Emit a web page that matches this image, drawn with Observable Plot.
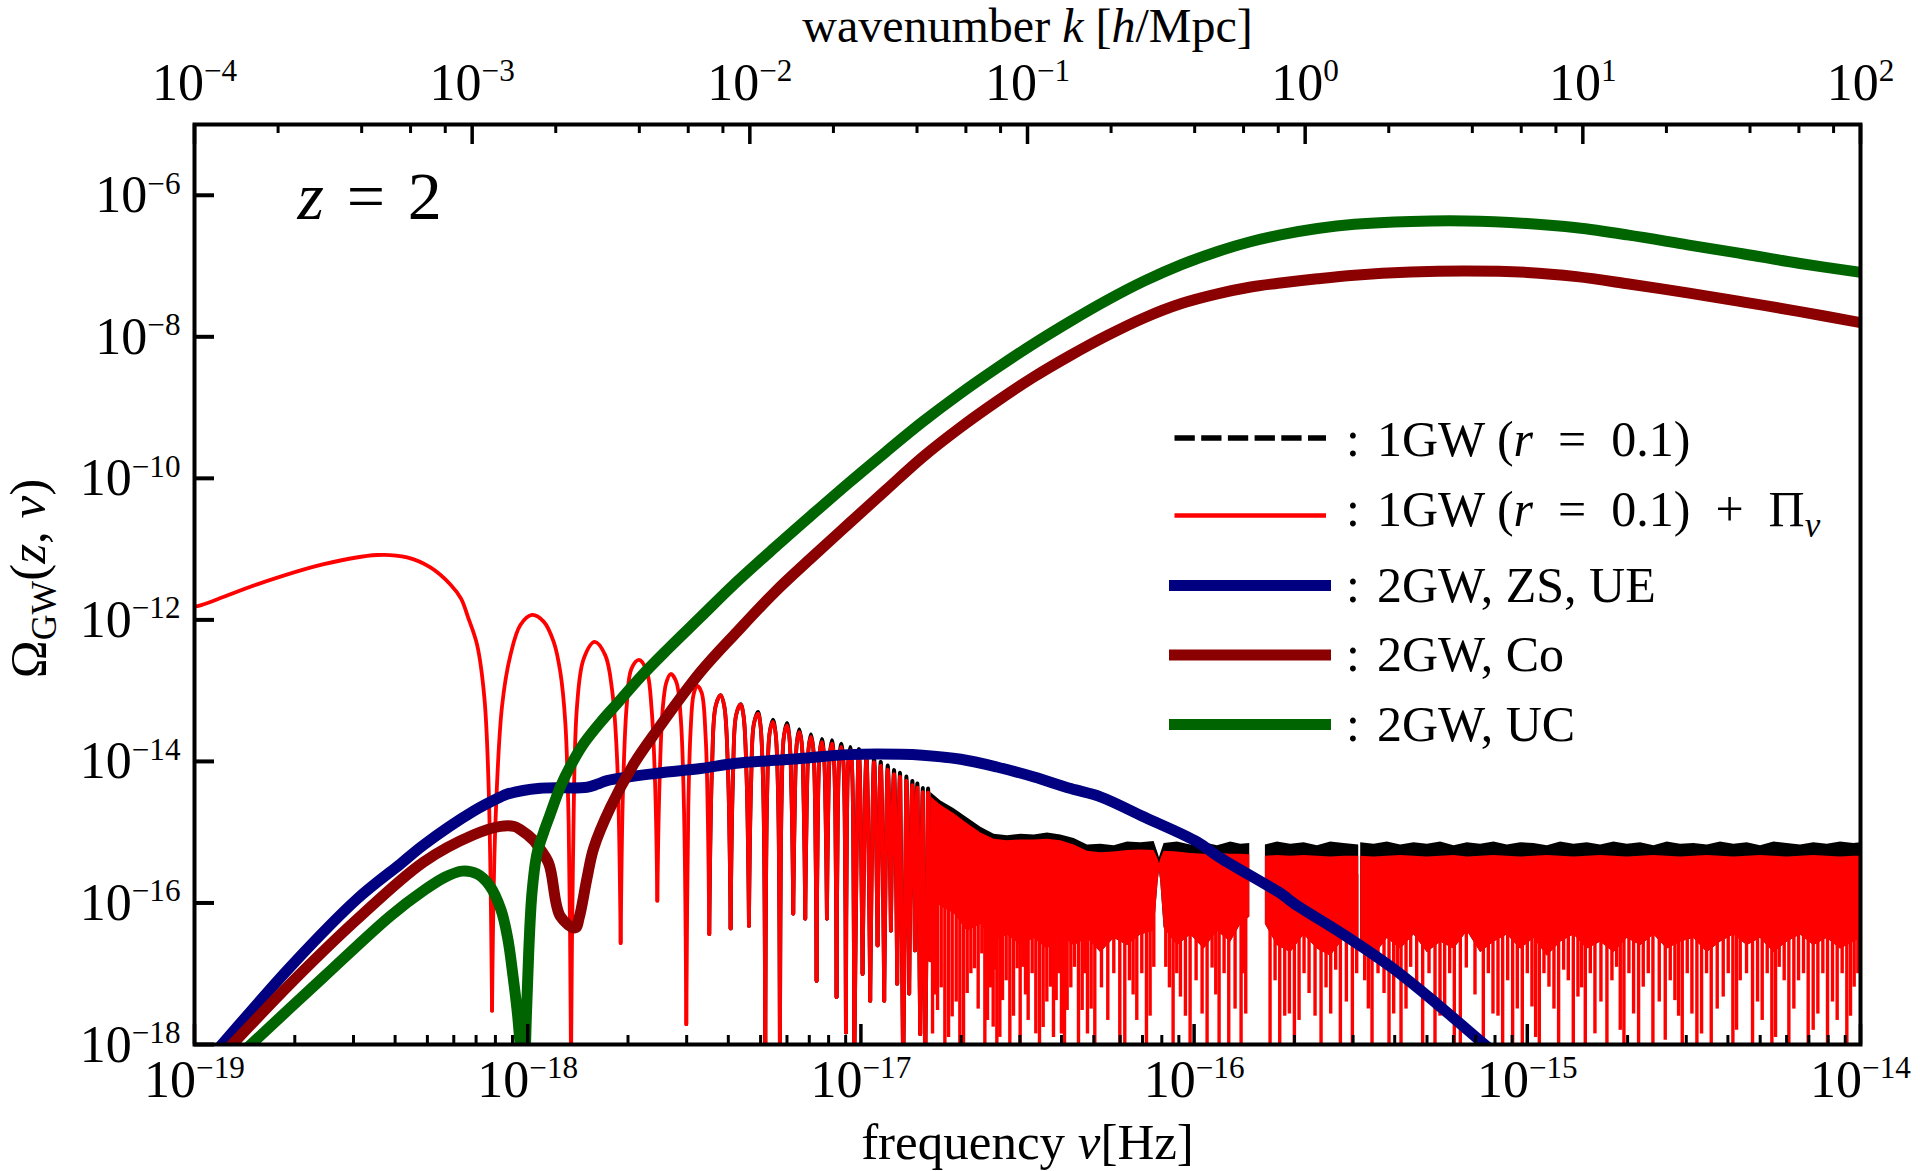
<!DOCTYPE html>
<html>
<head>
<meta charset="utf-8">
<script src="https://cdn.jsdelivr.net/npm/d3@7"></script>
<script src="https://cdn.jsdelivr.net/npm/@observablehq/plot@0.6"></script>
<style>
html, body { margin: 0; padding: 0; background: #fff; }
#chart svg { display: block; }
#chart text { white-space: pre; }
</style>
</head>
<body>
<div id="chart"></div>
<script>
// ---------------- axis tick definitions ----------------
const xTickExponents = [-19, -18, -17, -16, -15, -14];
const xMinorMultipliers = [2, 3, 4, 5, 6, 7, 8, 9];
const yTickExponents = [-6, -8, -10, -12, -14, -16, -18];
const kTickExponents = [-4, -3, -2, -1, 0, 1, 2];
const kMinorMultipliers = [2, 4, 6, 8];
const kDecadesPerNuDecade = 6 / 5; // k: 1e-4..1e2 h/Mpc spans nu: 1e-19..1e-14 Hz

// ---------------- series (log10 nu [Hz], log10 Omega) ----------------
const blueLog = [
  [-19.0, -18.44], [-18.927, -18.05], [-18.712, -16.90], [-18.512, -15.944], [-18.381, -15.445],
  [-18.312, -15.179], [-18.162, -14.701], [-18.082, -14.503], [-18.062, -14.462], [-17.962, -14.38],
  [-17.822, -14.365], [-17.79, -14.32], [-17.762, -14.271], [-17.611, -14.166], [-17.481, -14.10],
  [-17.381, -14.03], [-17.259, -13.984], [-17.181, -13.96], [-17.037, -13.904], [-16.881, -13.90],
  [-16.815, -13.913], [-16.70, -13.97], [-16.592, -14.079], [-16.48, -14.22], [-16.370, -14.384],
  [-16.281, -14.50], [-16.148, -14.79], [-15.990, -15.139], [-15.925, -15.351], [-15.739, -15.869],
  [-15.699, -16.01], [-15.55, -16.45], [-15.408, -16.907], [-15.27, -17.43], [-15.131, -17.99], [-15.0, -18.5]
];
const darkRedLog = [
  [-19.0, -18.56], [-18.897, -18.05], [-18.712, -17.14], [-18.512, -16.231], [-18.312, -15.42],
  [-18.162, -15.036], [-18.082, -14.917], [-18.04, -14.92], [-18.022, -14.964], [-17.982, -15.115],
  [-17.972, -15.179], [-17.937, -15.44], [-17.902, -16.19], [-17.857, -16.351], [-17.845, -16.2],
  [-17.822, -15.65], [-17.802, -15.227], [-17.752, -14.654], [-17.681, -14.032], [-17.611, -13.554],
  [-17.481, -12.734], [-17.37, -12.16], [-17.259, -11.61], [-17.148, -11.12], [-17.037, -10.643],
  [-16.926, -10.17], [-16.815, -9.701], [-16.704, -9.29], [-16.593, -8.916], [-16.482, -8.57],
  [-16.371, -8.262], [-16.26, -7.98], [-16.149, -7.73], [-16.038, -7.53], [-15.927, -7.39],
  [-15.834, -7.30], [-15.741, -7.24], [-15.63, -7.18], [-15.519, -7.13], [-15.35, -7.085],
  [-15.185, -7.07], [-15.0, -7.09], [-14.852, -7.15], [-14.7, -7.25], [-14.519, -7.38],
  [-14.35, -7.51], [-14.186, -7.64], [-14.0, -7.80]
];
const greenLog = [
  [-19.0, -18.74], [-18.842, -18.05], [-18.612, -17.044], [-18.412, -16.183], [-18.312, -15.825],
  [-18.25, -15.64], [-18.197, -15.55], [-18.152, -15.59], [-18.115, -15.75], [-18.08, -16.10],
  [-18.06, -16.5], [-18.045, -17.0], [-18.03, -17.6], [-18.018, -18.3], [-18.012, -18.6],
  [-18.004, -17.6], [-17.997, -16.7], [-17.987, -15.85], [-17.972, -15.3], [-17.952, -15.0],
  [-17.935, -14.78], [-17.902, -14.36], [-17.87, -14.05], [-17.832, -13.75], [-17.78, -13.44],
  [-17.731, -13.18], [-17.66, -12.80], [-17.581, -12.42], [-17.481, -11.96], [-17.381, -11.50],
  [-17.259, -10.98], [-17.148, -10.52], [-17.037, -10.067], [-16.926, -9.63], [-16.815, -9.203],
  [-16.704, -8.81], [-16.593, -8.445], [-16.482, -8.10], [-16.371, -7.78], [-16.26, -7.48],
  [-16.149, -7.21], [-16.038, -6.98], [-15.927, -6.79], [-15.834, -6.66], [-15.741, -6.56],
  [-15.63, -6.47], [-15.519, -6.41], [-15.35, -6.37], [-15.185, -6.363], [-15.0, -6.40],
  [-14.852, -6.46], [-14.7, -6.56], [-14.519, -6.70], [-14.35, -6.83], [-14.186, -6.96], [-14.0, -7.09]
];

// 1GW + Pi_nu : resolved arches (each arch from dip to dip)
const redArches = [
  [[-19.0, -11.81], [-18.982, -11.795], [-18.812, -11.498], [-18.612, -11.213], [-18.452, -11.083],
   [-18.362, -11.117], [-18.292, -11.259], [-18.232, -11.50], [-18.20, -11.70], [-18.18, -11.95],
   [-18.152, -12.35], [-18.13, -13.1], [-18.117, -14.4], [-18.107, -17.522]],
  [[-18.107, -17.522], [-18.097, -14.893], [-18.077, -13.219], [-18.052, -12.502], [-18.022, -12.072],
   [-17.987, -11.93], [-17.952, -12.024], [-17.922, -12.311], [-17.902, -12.741], [-17.887, -13.458],
   [-17.877, -14.893], [-17.870, -18.3]],
  [[-17.870, -18.3], [-17.864, -15.371], [-17.852, -13.219], [-17.832, -12.55], [-17.799, -12.311],
   [-17.767, -12.502], [-17.747, -12.98], [-17.732, -13.936], [-17.721, -16.566]],
  [[-17.721, -16.566], [-17.714, -14.415], [-17.703, -13.219], [-17.689, -12.693], [-17.666, -12.564],
   [-17.643, -12.717], [-17.628, -13.267], [-17.617, -14.415], [-17.611, -15.968]],
  [[-17.611, -15.968], [-17.605, -14.415], [-17.595, -13.267], [-17.584, -12.885], [-17.571, -12.765],
   [-17.554, -12.876], [-17.541, -13.363], [-17.531, -14.654], [-17.524, -17.713]],
  [[-17.524, -17.713], [-17.518, -14.654], [-17.511, -13.554], [-17.502, -13.052], [-17.491, -12.934],
   [-17.478, -13.028], [-17.466, -13.65], [-17.459, -14.893], [-17.455, -16.44]],
  [[-17.455, -16.44], [-17.4467, -14.065], [-17.4358, -13.215], [-17.421, -13.065], [-17.4102, -13.215], [-17.3993, -14.065], [-17.391, -16.36]],
  [[-17.391, -16.36], [-17.3838, -14.196], [-17.3745, -13.346], [-17.361, -13.196], [-17.3525, -13.346], [-17.3432, -14.196], [-17.336, -16.32]],
  [[-17.336, -16.32], [-17.3296, -14.324], [-17.3213, -13.474], [-17.309, -13.324], [-17.3017, -13.474], [-17.2934, -14.324], [-17.287, -18.5]],
  [[-17.287, -18.5], [-17.2813, -14.443], [-17.2738, -13.593], [-17.264, -13.443], [-17.2562, -13.593], [-17.2487, -14.443], [-17.243, -18.5]],
  [[-17.243, -18.5], [-17.2378, -14.49], [-17.231, -13.64], [-17.222, -13.49], [-17.215, -13.64], [-17.2082, -14.49], [-17.203, -16.15]],
  [[-17.203, -16.15], [-17.1983, -14.584], [-17.1922, -13.734], [-17.185, -13.584], [-17.1778, -13.734], [-17.1717, -14.584], [-17.167, -16.22]],
  [[-17.167, -16.22], [-17.1626, -14.655], [-17.1568, -13.805], [-17.150, -13.655], [-17.1432, -13.805], [-17.1374, -14.655], [-17.133, -17.10]],
  [[-17.133, -17.10], [-17.129, -14.725], [-17.1237, -13.875], [-17.117, -13.725], [-17.1113, -13.875], [-17.106, -14.725], [-17.102, -16.22]],
  [[-17.102, -16.22], [-17.0982, -14.748], [-17.0933, -13.898], [-17.087, -13.748], [-17.0817, -13.898], [-17.0768, -14.748], [-17.073, -17.33]],
  [[-17.073, -17.33], [-17.0694, -14.796], [-17.0646, -13.946], [-17.059, -13.796], [-17.0534, -13.946], [-17.0486, -14.796], [-17.045, -17.83]],
  [[-17.045, -17.83], [-17.0418, -14.843], [-17.0375, -13.993], [-17.032, -13.843], [-17.0275, -13.993], [-17.0233, -14.843], [-17.020, -18.5]]
];
const firstFineArch = 6;      // redArches[6..16] are the narrow arches p6..p16
const firstNarrowRedArch = 11; // fine arches drawn from dips/peaks start here (p17..)

// narrow arches: dips and peaks
const fineDips = [
  [-17.455, -16.44], [-17.391, -16.36], [-17.336, -16.32], [-17.287, -18.5], [-17.243, -18.5],
  [-17.203, -16.15], [-17.167, -16.22], [-17.133, -17.10], [-17.102, -16.22], [-17.073, -17.33],
  [-17.045, -17.83], [-17.020, -18.5], [-16.995, -17.0], [-16.972, -17.38], [-16.950, -16.6],
  [-16.930, -17.38], [-16.910, -16.39], [-16.891, -17.14], [-16.873, -18.5], [-16.855, -17.28],
  [-16.838, -16.67], [-16.822, -17.85], [-16.807, -18.5], [-16.792, -16.81]
];
const fineRedPeaks = [
  [-17.421, -13.065], [-17.361, -13.196], [-17.309, -13.324], [-17.264, -13.443], [-17.222, -13.49],
  [-17.185, -13.584], [-17.150, -13.655], [-17.117, -13.725], [-17.087, -13.748], [-17.059, -13.796],
  [-17.032, -13.843], [-17.007, -13.90], [-16.983, -13.96], [-16.961, -14.02], [-16.940, -14.07],
  [-16.920, -14.13], [-16.900, -14.19], [-16.882, -14.24], [-16.864, -14.29], [-16.846, -14.34],
  [-16.830, -14.39], [-16.814, -14.44], [-16.799, -14.48]
];
// 1GW (r=0.1) peaks, slightly above the red ones
const fineBlackPeaks = [
  [-17.421, -13.065], [-17.361, -13.19], [-17.309, -13.30], [-17.264, -13.41], [-17.222, -13.455],
  [-17.185, -13.545], [-17.150, -13.615], [-17.117, -13.68], [-17.087, -13.70], [-17.059, -13.75],
  [-17.032, -13.795], [-17.007, -13.85], [-16.983, -13.91], [-16.961, -13.965], [-16.940, -14.015],
  [-16.920, -14.07], [-16.900, -14.13], [-16.882, -14.18], [-16.864, -14.23], [-16.846, -14.28],
  [-16.830, -14.33], [-16.814, -14.38], [-16.799, -14.42]
];

// unresolved oscillation band: [log nu, solid floor, red top, black (1GW) top]
const denseBand = [
  [-16.790, -15.90, -14.50, -14.44], [-16.760, -16.05, -14.62, -14.56], [-16.720, -16.15, -14.74, -14.67],
  [-16.680, -16.40, -14.88, -14.80], [-16.640, -16.30, -15.01, -14.93], [-16.600, -16.55, -15.10, -15.03],
  [-16.560, -16.45, -15.12, -15.05], [-16.520, -16.60, -15.11, -15.03], [-16.480, -16.50, -15.11, -15.04],
  [-16.440, -16.65, -15.10, -15.01], [-16.400, -16.45, -15.12, -15.04], [-16.360, -16.60, -15.18, -15.09],
  [-16.320, -16.50, -15.27, -15.18], [-16.280, -16.70, -15.29, -15.17], [-16.240, -16.50, -15.28, -15.19],
  [-16.200, -16.60, -15.26, -15.14], [-16.160, -16.45, -15.25, -15.15], [-16.120, -16.40, -15.26, -15.13],
  [-16.108, -15.70, -15.38, -15.30], [-16.104, -15.55, -15.45, -15.36], [-16.100, -15.70, -15.38, -15.30],
  [-16.090, -16.35, -15.27, -15.16], [-16.050, -16.60, -15.28, -15.14], [-16.010, -16.45, -15.30, -15.18],
  [-15.970, -16.65, -15.31, -15.15], [-15.930, -16.40, -15.30, -15.19], [-15.890, -16.55, -15.31, -15.14],
  [-15.860, -16.30, -15.31, -15.17], [-15.833, -16.20, -15.32, -15.16], [-15.810, null, null, null],
  [-15.786, -16.30, -15.34, -15.18], [-15.750, -16.60, -15.33, -15.14], [-15.710, -16.70, -15.34, -15.17],
  [-15.670, -16.45, -15.33, -15.15], [-15.630, -16.65, -15.34, -15.19], [-15.590, -16.75, -15.35, -15.14],
  [-15.550, -16.50, -15.34, -15.16], [-15.506, -16.55, -15.34, -15.18], [-15.503, null, null, null],
  [-15.500, -16.55, -15.34, -15.15], [-15.460, -16.75, -15.35, -15.17], [-15.420, -16.50, -15.34, -15.14],
  [-15.380, -16.65, -15.33, -15.18], [-15.340, -16.45, -15.34, -15.15], [-15.300, -16.70, -15.35, -15.17],
  [-15.260, -16.55, -15.34, -15.14], [-15.220, -16.65, -15.33, -15.19], [-15.180, -16.40, -15.35, -15.15],
  [-15.140, -16.70, -15.34, -15.17], [-15.100, -16.55, -15.33, -15.14], [-15.060, -16.45, -15.34, -15.18],
  [-15.020, -16.65, -15.35, -15.15], [-14.980, -16.50, -15.34, -15.16], [-14.940, -16.75, -15.33, -15.19],
  [-14.900, -16.55, -15.34, -15.14], [-14.860, -16.45, -15.35, -15.17], [-14.820, -16.65, -15.34, -15.15],
  [-14.780, -16.55, -15.33, -15.18], [-14.740, -16.70, -15.34, -15.14], [-14.700, -16.50, -15.35, -15.17],
  [-14.660, -16.60, -15.34, -15.15], [-14.620, -16.45, -15.33, -15.19], [-14.580, -16.65, -15.34, -15.14],
  [-14.540, -16.55, -15.35, -15.17], [-14.500, -16.50, -15.34, -15.16], [-14.460, -16.70, -15.33, -15.18],
  [-14.420, -16.55, -15.34, -15.14], [-14.380, -16.45, -15.35, -15.17], [-14.340, -16.60, -15.34, -15.15],
  [-14.300, -16.50, -15.33, -15.19], [-14.260, -16.70, -15.34, -15.14], [-14.220, -16.55, -15.35, -15.16],
  [-14.180, -16.45, -15.34, -15.18], [-14.140, -16.60, -15.33, -15.15], [-14.100, -16.50, -15.34, -15.17],
  [-14.060, -16.65, -15.35, -15.14], [-14.020, -16.55, -15.34, -15.16], [-14.000, -16.50, -15.34, -15.15]
];

// deep downward red spikes: [log nu, spike top, spike bottom]
const redSpikes = [
  [-16.785, -15.6, -17.85], [-16.770, -15.6, -17.52], [-16.748, -15.6, -18.3], [-16.726, -15.6, -17.61],
  [-16.703, -15.6, -18.3], [-16.681, -15.6, -17.28], [-16.659, -15.6, -16.93], [-16.637, -15.6, -16.72],
  [-16.620, -15.6, -17.66], [-16.603, -15.6, -17.755], [-16.592, -15.6, -18.3], [-16.575, -15.6, -17.38],
  [-16.553, -15.6, -18.3], [-16.531, -15.6, -16.93], [-16.514, -15.6, -16.91], [-16.498, -15.6, -17.66],
  [-16.475, -15.6, -17.85], [-16.453, -15.6, -17.76], [-16.431, -15.6, -17.19], [-16.414, -15.6, -17.38],
  [-16.398, -15.6, -17.85], [-16.381, -15.6, -17.52], [-16.359, -15.6, -16.91], [-16.336, -15.6, -17.52],
  [-16.320, -15.6, -17.85], [-16.298, -15.6, -18.3], [-16.259, -15.6, -17.66], [-16.223, -15.6, -18.3],
  [-16.194, -15.6, -17.10], [-16.172, -15.6, -17.66], [-16.143, -15.6, -18.3], [-16.121, -15.6, -16.91],
  [-16.085, -15.6, -16.91], [-16.063, -15.6, -18.3], [-16.041, -15.6, -17.33], [-16.012, -15.6, -18.3],
  [-15.976, -15.6, -17.57], [-15.946, -15.6, -16.92], [-15.925, -15.6, -18.3], [-15.896, -15.6, -18.3],
  [-15.859, -15.6, -18.3], [-15.845, -15.6, -17.57], [-15.772, -15.6, -18.3], [-15.743, -15.6, -18.3],
  [-15.714, -15.6, -17.57], [-15.685, -15.6, -17.66], [-15.655, -15.6, -17.28], [-15.619, -15.6, -18.3],
  [-15.590, -15.6, -17.57], [-15.561, -15.6, -18.3], [-15.525, -15.6, -18.3], [-15.488, -15.6, -17.10],
  [-15.466, -15.6, -18.3], [-15.430, -15.6, -17.28], [-15.401, -15.6, -17.57], [-15.379, -15.6, -18.3],
  [-15.350, -15.6, -16.91], [-15.314, -15.6, -18.3], [-15.277, -15.6, -18.3], [-15.248, -15.6, -17.47],
  [-15.219, -15.6, -18.3], [-15.183, -15.6, -16.92], [-15.132, -15.6, -18.3], [-15.103, -15.6, -17.57],
  [-15.074, -15.6, -18.3], [-15.044, -15.6, -18.3], [-15.015, -15.6, -18.3], [-14.986, -15.6, -17.47],
  [-14.964, -15.6, -18.3], [-14.935, -15.6, -17.19], [-14.906, -15.6, -18.3], [-14.877, -15.6, -17.10],
  [-14.848, -15.6, -17.33], [-14.826, -15.6, -18.3], [-14.797, -15.6, -17.85], [-14.761, -15.6, -18.3],
  [-14.732, -15.6, -16.91], [-14.710, -15.6, -18.3], [-14.681, -15.6, -17.57], [-14.652, -15.6, -17.19],
  [-14.623, -15.6, -18.3], [-14.586, -15.6, -17.94], [-14.557, -15.6, -17.38], [-14.535, -15.6, -18.3],
  [-14.506, -15.6, -17.57], [-14.477, -15.6, -17.85], [-14.448, -15.6, -18.3], [-14.412, -15.6, -17.33],
  [-14.383, -15.6, -18.3], [-14.361, -15.6, -17.10], [-14.324, -15.6, -18.3], [-14.295, -15.6, -17.66],
  [-14.266, -15.6, -18.3], [-14.244, -15.6, -16.91], [-14.215, -15.6, -18.3], [-14.186, -15.6, -17.10],
  [-14.157, -15.6, -18.3], [-14.128, -15.6, -17.57], [-14.099, -15.6, -18.3], [-14.070, -15.6, -17.66],
  [-14.041, -15.6, -18.3], [-14.019, -15.6, -17.19]
];
// shorter spikes between the deep ones
const redSpikesShort = [
  [-16.778, -17.3], [-16.759, -17.2], [-16.737, -17.9], [-16.714, -17.4], [-16.692, -18.3], [-16.670, -17.0],
  [-16.648, -17.5], [-16.628, -18.3], [-16.611, -17.2], [-16.597, -16.95], [-16.583, -17.9], [-16.564, -17.1],
  [-16.542, -17.6], [-16.522, -18.3], [-16.506, -17.3], [-16.486, -17.0], [-16.464, -18.3], [-16.442, -17.4],
  [-16.422, -17.9], [-16.406, -17.0], [-16.389, -18.3], [-16.370, -17.2], [-16.347, -18.0], [-16.328, -17.0],
  [-16.309, -17.5], [-16.278, -17.2], [-16.241, -17.0], [-16.208, -18.3], [-16.183, -17.3], [-16.157, -17.0],
  [-16.132, -17.6], [-16.074, -17.2], [-16.052, -17.0], [-16.026, -17.6], [-15.994, -17.1], [-15.961, -18.3],
  [-15.935, -17.3], [-15.910, -17.0], [-15.877, -17.5], [-15.852, -17.0], [-15.757, -17.1], [-15.728, -17.6],
  [-15.699, -18.3], [-15.670, -17.0], [-15.637, -17.6], [-15.604, -17.2], [-15.575, -16.95], [-15.543, -17.4],
  [-15.512, -17.0], [-15.477, -17.5], [-15.448, -17.0], [-15.415, -18.3], [-15.390, -17.0], [-15.364, -17.5],
  [-15.332, -17.2], [-15.295, -17.0], [-15.262, -17.6], [-15.233, -17.0], [-15.201, -18.3], [-15.157, -17.3],
  [-15.117, -17.0], [-15.088, -17.6], [-15.059, -17.1], [-15.030, -17.5], [-15.000, -17.0], [-14.975, -17.9],
  [-14.950, -17.0], [-14.920, -17.5], [-14.891, -16.95], [-14.862, -18.3], [-14.837, -17.2], [-14.811, -17.0],
  [-14.779, -17.4], [-14.746, -17.1], [-14.721, -17.8], [-14.695, -17.0], [-14.666, -18.3], [-14.637, -17.0],
  [-14.604, -17.4], [-14.571, -17.1], [-14.546, -17.6], [-14.520, -17.0], [-14.491, -18.3], [-14.462, -17.0],
  [-14.430, -17.5], [-14.397, -17.0], [-14.372, -17.8], [-14.342, -17.0], [-14.309, -17.4], [-14.280, -17.0],
  [-14.255, -17.9], [-14.229, -17.1], [-14.200, -17.5], [-14.171, -17.0], [-14.142, -17.8], [-14.113, -17.0],
  [-14.084, -17.4], [-14.055, -17.0], [-14.030, -17.6], [-14.008, -17.0]
];
const shortSpikeTopLog = -15.6;

// legend entries
const legendLabels = ["1GW (*r*\u2002=\u20020.1)", "1GW (*r*\u2002=\u20020.1)\u2002+\u2002Π_{*ν*}", "2GW, ZS, UE", "2GW, Co", "2GW, UC"];
const seriesColors = ["#000000", "#ff0000", "#000080", "#8b0000", "#006400"];

// ---------------- build tables ----------------
const P = v => (v == null ? NaN : Math.pow(10, v));
const curveRows = arr => arr.map(([a, b]) => ({nu: P(a), om: P(b)}));
const redArchRows = [], blackArchRows = [], narrowRed = [];
redArches.forEach((arch, i) => arch.forEach(([a, b], j) => {
  redArchRows.push({arch: i, nu: P(a), om: P(b)});
  if (i >= firstFineArch) {
    const bp = fineBlackPeaks[i - firstFineArch];
    blackArchRows.push({arch: i, nu: P(a), om: P(j === 3 ? bp[1] : b)});
  }
}));
for (let i = firstNarrowRedArch; i < fineRedPeaks.length; i++) {
  const d0 = fineDips[i], d1 = fineDips[i + 1];
  for (const [a, b] of [d0, fineRedPeaks[i], d1]) narrowRed.push({arch: i, nu: P(a), om: P(b)});
  for (const [a, b] of [d0, fineBlackPeaks[i], d1]) blackArchRows.push({arch: 100 + i, nu: P(a), om: P(b)});
}
const blackCatmull = blackArchRows.filter(d => d.arch < 100);
const blackNatural = blackArchRows.filter(d => d.arch >= 100);
const allSpikes = redSpikes.concat(redSpikesShort.map(([a, b]) => [a, shortSpikeTopLog, b]));

const minus = e => (e < 0 ? "\u2212" + (-e) : String(e));
const pow10Label = e => `10^{${minus(e)}}`;
const kToNu = lk => Math.pow(10, -19 + (lk + 4) / kDecadesPerNuDecade);
const xMinor = [], kMinor = [];
for (let e = -19; e < -14; e++) for (const m of xMinorMultipliers) xMinor.push(m * Math.pow(10, e));
for (let e = -4; e < 2; e++) for (const m of kMinorMultipliers) kMinor.push(kToNu(e + Math.log10(m)));

const W = 1920, H = 1171, ML = 194, MR = 60, MT = 124, MB = 127;
const plotW = W - ML - MR, plotH = H - MT - MB;
const FONT = "'Liberation Serif', 'Times New Roman', serif";
const TICK_FONT = 52;

const chart = Plot.plot({
  width: W, height: H,
  marginLeft: ML, marginRight: MR, marginTop: MT, marginBottom: MB,
  x: {type: "log", domain: [1e-19, 1e-14], axis: null},
  y: {type: "log", domain: [1e-18, 1e-5], axis: null},
  style: {fontFamily: FONT, fontSize: "48px", background: "white", color: "black"},
  marks: [
    // 1GW (black): band and arch tips
    Plot.areaY(denseBand, {x: d => P(d[0]), y1: d => P(d[1]), y2: d => P(d[3]), fill: "#000", clip: true}),
    Plot.line(blackCatmull, {x: "nu", y: "om", z: "arch", curve: "catmull-rom", stroke: "#000", strokeWidth: 3.8, clip: true}),
    Plot.line(blackNatural, {x: "nu", y: "om", z: "arch", curve: "natural", stroke: "#000", strokeWidth: 3.8, clip: true}),
    // 1GW + Pi_nu (red)
    Plot.line(redArchRows, {x: "nu", y: "om", z: "arch", curve: "catmull-rom", stroke: "#ff0000", strokeWidth: 3.8, clip: true}),
    Plot.line(narrowRed, {x: "nu", y: "om", z: "arch", curve: "natural", stroke: "#ff0000", strokeWidth: 3.8, clip: true}),
    Plot.areaY(denseBand, {x: d => P(d[0]), y1: d => P(d[1]), y2: d => P(d[2]), fill: "#ff0000", clip: true}),
    Plot.ruleX(allSpikes, {x: d => P(d[0]), y1: d => P(d[1]), y2: d => P(d[2]), stroke: "#ff0000", strokeWidth: 3.4, clip: true}),
    // 2GW curves
    Plot.line(curveRows(blueLog), {x: "nu", y: "om", curve: "catmull-rom", stroke: seriesColors[2], strokeWidth: 11, clip: true}),
    Plot.line(curveRows(darkRedLog), {x: "nu", y: "om", curve: "catmull-rom", stroke: seriesColors[3], strokeWidth: 11, clip: true}),
    Plot.line(curveRows(greenLog), {x: "nu", y: "om", curve: "catmull-rom", stroke: seriesColors[4], strokeWidth: 11, clip: true}),
    // frame and ticks
    Plot.frame({stroke: "black", strokeWidth: 4}),
    Plot.tickX(xTickExponents.map(e => Math.pow(10, e)), {x: d => d, insetTop: plotH - 20, strokeWidth: 3.5}),
    Plot.tickX(xMinor, {x: d => d, insetTop: plotH - 9, strokeWidth: 3}),
    Plot.tickX(kTickExponents.map(kToNu), {x: d => d, insetBottom: plotH - 20, strokeWidth: 3.5}),
    Plot.tickX(kMinor, {x: d => d, insetBottom: plotH - 9, strokeWidth: 3}),
    Plot.tickY(yTickExponents.map(e => Math.pow(10, e)), {y: d => d, insetRight: plotW - 20, strokeWidth: 4}),
    // tick labels
    Plot.text(xTickExponents, {x: e => Math.pow(10, e), frameAnchor: "bottom", dy: 52, text: pow10Label, lineAnchor: "bottom", textAnchor: "middle", fontSize: TICK_FONT}),
    Plot.text(kTickExponents, {x: e => kToNu(e), frameAnchor: "top", dy: -25, text: pow10Label, lineAnchor: "bottom", textAnchor: "middle", fontSize: TICK_FONT}),
    Plot.text(yTickExponents, {y: e => Math.pow(10, e), frameAnchor: "left", dx: -14, dy: 17, text: pow10Label, lineAnchor: "bottom", textAnchor: "end", fontSize: TICK_FONT}),
    // titles
    Plot.text(["wavenumber *k* [*h*/Mpc]"], {frameAnchor: "top", dy: -83, text: d => d, lineAnchor: "bottom", textAnchor: "middle", fontSize: 48}),
    Plot.text(["frequency *ν*[Hz]"], {frameAnchor: "bottom", dy: 114, text: d => d, lineAnchor: "bottom", textAnchor: "middle", fontSize: 51}),
    Plot.text(["Ω_{GW}(*z*, *ν*)"], {frameAnchor: "left", dx: -150, dy: -6, rotate: -90, text: d => d, lineAnchor: "bottom", textAnchor: "middle", fontSize: 51}),
    Plot.text(["*z*\u2004=\u20042"], {frameAnchor: "top-left", dx: 103, dy: 94, text: d => d, textAnchor: "start", lineAnchor: "bottom", fontSize: 68})
  ]
});

document.getElementById("chart").appendChild(chart);

// ---------------- legend (inside the frame) ----------------
const svg = d3.select(chart.tagName.toLowerCase() === "svg" ? chart : chart.querySelector("svg"));
const legendLayout = {
  lineY: [438, 515.5, 585.5, 655, 724.5],
  textY: [456, 526, 602, 671, 741],
  thinX: [1174.5, 1326], thickX: [1169, 1331], colonX: 1346, labelX: 1377
};
const legendStyles = [
  {width: 5.5, dash: "20.3 6.4", thick: false},
  {width: 4.6, dash: null, thick: false},
  {width: 11, dash: null, thick: true},
  {width: 11, dash: null, thick: true},
  {width: 11, dash: null, thick: true}
];
const lg = svg.append("g").attr("font-family", FONT).attr("font-size", 50)
  .attr("fill", "black").attr("text-anchor", "start");
legendLabels.forEach((label, i) => {
  const st = legendStyles[i];
  const [x1, x2] = st.thick ? legendLayout.thickX : legendLayout.thinX;
  const ln = lg.append("line").attr("x1", x1).attr("x2", x2)
    .attr("y1", legendLayout.lineY[i]).attr("y2", legendLayout.lineY[i])
    .attr("stroke", seriesColors[i]).attr("stroke-width", st.width).attr("stroke-linecap", "butt");
  if (st.dash) ln.attr("stroke-dasharray", st.dash);
  lg.append("text").attr("x", legendLayout.colonX).attr("y", legendLayout.textY[i]).attr("text-anchor", "start").text(":");
  lg.append("text").attr("x", legendLayout.labelX).attr("y", legendLayout.textY[i]).attr("text-anchor", "start").text(label);
});

// ---------------- rich text (italic, super/subscripts) ----------------
const SUP = {size: 0.6, raise: 0.36}, SUB = {size: 0.7, drop: 0.22};
function parseRich(s) {
  const out = [];
  let italic = false, shift = 0, buf = "";
  const flush = () => { if (buf) { out.push({t: buf, italic, shift}); buf = ""; } };
  for (let i = 0; i < s.length; i++) {
    const c = s[i];
    if (c === "*") { flush(); italic = !italic; }
    else if ((c === "^" || c === "_") && s[i + 1] === "{") { flush(); shift = c === "^" ? 1 : -1; i++; }
    else if (c === "}" && shift !== 0) { flush(); shift = 0; }
    else buf += c;
  }
  flush();
  return out;
}
svg.selectAll("text").each(function () {
  const raw = this.textContent;
  if (!/[\^_*]/.test(raw)) return;
  const size = parseFloat(getComputedStyle(this).fontSize) || 48;
  const segs = parseRich(raw);
  while (this.firstChild) this.removeChild(this.firstChild);
  let cur = 0;
  for (const seg of segs) {
    const ts = document.createElementNS("http://www.w3.org/2000/svg", "tspan");
    const target = seg.shift === 1 ? -SUP.raise * size : seg.shift === -1 ? SUB.drop * size : 0;
    if (target !== cur) ts.setAttribute("dy", (target - cur).toFixed(2));
    cur = target;
    if (seg.shift === 1) ts.setAttribute("font-size", (SUP.size * size).toFixed(1));
    if (seg.shift === -1) ts.setAttribute("font-size", (SUB.size * size).toFixed(1));
    if (seg.italic) ts.setAttribute("font-style", "italic");
    ts.textContent = seg.t;
    this.appendChild(ts);
  }
  this.style.whiteSpace = "pre";
});
</script>
</body>
</html>
